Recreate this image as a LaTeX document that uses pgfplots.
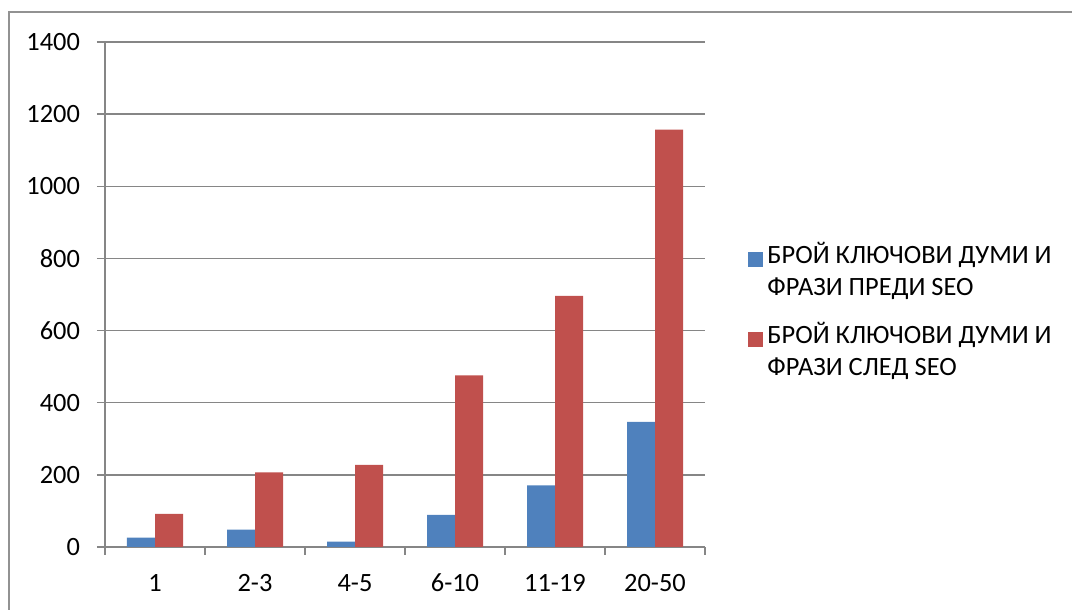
\documentclass[border=0pt]{standalone}
\usepackage{fontspec}
\setmainfont{Carlito}
\usepackage{pgfplots}
\pgfplotsset{compat=1.18}
\definecolor{seoblue}{HTML}{4F81BD}
\definecolor{seored}{HTML}{C0504D}
\definecolor{gridgray}{HTML}{868686}

\begin{document}
\begin{tikzpicture}[font=\fontsize{13.2pt}{16pt}\selectfont]
\path[use as bounding box] (0,0) rectangle (536pt,305pt);
% outer chart frame (only left and top edges are inside the picture)
\draw[gridgray!90, line width=0.75pt] (4.5pt,0) -- (4.5pt,299pt) -- (536pt,299pt);
\begin{axis}[
  at={(52.5pt,31.5pt)}, anchor=south west,
  scale only axis, width=300pt, height=252.5pt,
  ybar=0pt, bar width=14pt,
  xmin=-0.5, xmax=5.5, ymin=0, ymax=1400,
  enlargelimits=false,
  axis lines=left, axis line style={-, gridgray, line width=0.75pt},
  xtick={0,...,5}, xticklabels={1,2-3,4-5,6-10,11-19,20-50},
  minor xtick={-0.5,0.5,...,5.5},
  ytick={0,200,...,1400},
  ymajorgrids, grid style={gridgray, line width=0.75pt},
  tick align=outside, major tick length=4pt, minor tick length=4pt,
  tick style={gridgray, line width=0.75pt},
  major x tick style={draw=none},
  xticklabel style={anchor=base, yshift=-18.5pt},
  yticklabel style={xshift=-5pt},
  /pgf/number format/assume math mode=true,
  /pgf/number format/1000 sep={},
  legend style={draw=none, fill=none, at={(1.0717,0.606)}, anchor=north west,
    inner sep=0pt, row sep=27pt, column sep=2pt, cells={anchor=base west},
    nodes={inner sep=0pt}},
  legend cell align=left,
]
\addplot[fill=seoblue, draw=none,
  legend image code/.code={\fill[seoblue] (0pt,-6.5pt) rectangle (7.5pt,1pt);}]
  coordinates {(0,26) (1,48) (2,15) (3,89) (4,171) (5,347)};
\addlegendentry{\begin{tabular}[t]{@{}l@{}}БРОЙ КЛЮЧОВИ ДУМИ И\\ФРАЗИ ПРЕДИ SEO\end{tabular}}
\addplot[fill=seored, draw=none,
  legend image code/.code={\fill[seored] (0pt,-6.5pt) rectangle (7.5pt,1pt);}]
  coordinates {(0,92) (1,207) (2,228) (3,476) (4,696) (5,1157)};
\addlegendentry{\begin{tabular}[t]{@{}l@{}}БРОЙ КЛЮЧОВИ ДУМИ И\\ФРАЗИ СЛЕД SEO\end{tabular}}
\end{axis}
\end{tikzpicture}
\end{document}
